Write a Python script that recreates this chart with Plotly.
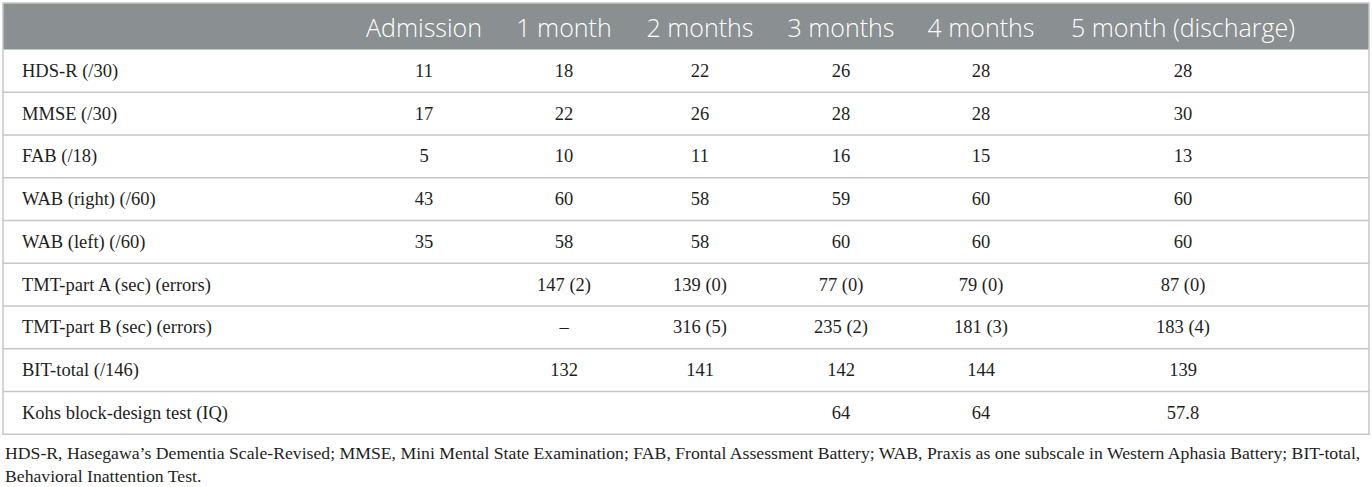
import plotly.graph_objects as go

measures = ["HDS-R (/30)", "MMSE (/30)", "FAB (/18)", "WAB (right) (/60)",
            "WAB (left) (/60)", "TMT-part A (sec) (errors)",
            "TMT-part B (sec) (errors)", "BIT-total (/146)",
            "Kohs block-design test (IQ)"]
timepoints = ["Admission", "1 month", "2 months", "3 months", "4 months",
              "5 month (discharge)"]

admission = ["11", "17", "5", "43", "35", "", "", "", ""]
month_1 = ["18", "22", "10", "60", "58", "147 (2)", "\u2013", "132", ""]
month_2 = ["22", "26", "11", "58", "58", "139 (0)", "316 (5)", "141", ""]
month_3 = ["26", "28", "16", "59", "60", "77 (0)", "235 (2)", "142", "64"]
month_4 = ["28", "28", "15", "60", "60", "79 (0)", "181 (3)", "144", "64"]
month_5 = ["28", "30", "13", "60", "60", "87 (0)", "183 (4)", "139", "57.8"]

footnote = ("HDS-R, Hasegawa\u2019s Dementia Scale-Revised; MMSE, Mini Mental State Examination; "
            "FAB, Frontal Assessment Battery; WAB, Praxis as one subscale in Western Aphasia Battery; "
            "BIT-total,<br>Behavioral Inattention Test.")

W, H = 1372, 487
m_l, m_r, m_t = 3, 3, 3
plot_h = H - m_t

# pixel layout (from the top of the page)
box_top, head_bottom, row_h = 3, 49.5, 42.75
n = len(measures)
box_bottom = head_bottom + n * row_h
# plotly puts table text near the top of each cell, so the table itself is pushed down
# a little and the header band / rules are drawn as shapes
text_top = 10
head_h = 45

grey = "#8a8f91"
rule = "#c5c8c8"


def py(p):
    return (H - p) / plot_h


blank = [""] * n
# spacer columns at the edges keep the centred columns where they sit in the original
columns = [blank, measures, admission, month_1, month_2, month_3, month_4, month_5, blank]
headers = ["", ""] + timepoints + [""]
widths = [11, 340, 140, 140, 132, 150, 130, 274, 49]

fig = go.Figure(go.Table(
    domain=dict(x=[0, 1], y=[py(text_top + head_h + n * row_h + 2), py(text_top)]),
    columnwidth=widths,
    header=dict(values=headers, fill_color="rgba(0,0,0,0)", line=dict(color="rgba(0,0,0,0)", width=0),
                align="center", height=head_h,
                font=dict(family="Open Sans", size=25, color="white", weight=300)),
    cells=dict(values=columns, fill_color="rgba(0,0,0,0)", line=dict(color="rgba(0,0,0,0)", width=0),
               align=["left", "left"] + ["center"] * 7, height=row_h,
               font=dict(family="Liberation Serif", size=18.5, color="#1e1e1e")),
))

shapes = [dict(type="rect", xref="paper", yref="paper", x0=0, x1=1,
               y0=py(head_bottom), y1=py(box_top), layer="below",
               fillcolor=grey, line=dict(width=0))]
for i in range(1, n):
    y = py(head_bottom + i * row_h)
    shapes.append(dict(type="line", xref="paper", yref="paper", x0=0, x1=1, y0=y, y1=y,
                       line=dict(color=rule, width=1.5)))
shapes.append(dict(type="rect", xref="paper", yref="paper", x0=0, x1=1,
                   y0=py(box_bottom), y1=py(box_top),
                   line=dict(color=rule, width=1.5)))

fig.update_layout(
    width=W, height=H,
    margin=dict(l=m_l, r=m_r, t=m_t, b=0),
    paper_bgcolor="white",
    shapes=shapes,
    annotations=[dict(text=footnote, xref="paper", yref="paper", x=0, y=py(box_bottom + 7),
                      xanchor="left", yanchor="top", align="left", showarrow=False,
                      font=dict(family="Liberation Serif", size=17.7, color="#1e1e1e"))],
)

# drop the browser's default body margin so the figure sits at the page corner
fig.write_html("out.html", config={"displayModeBar": False},
               post_script="document.body.style.margin='0px';")
